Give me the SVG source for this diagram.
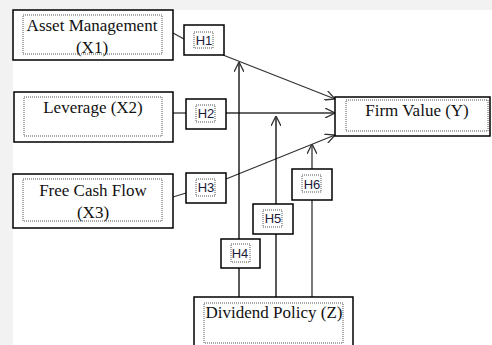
<svg xmlns="http://www.w3.org/2000/svg" width="492" height="345" viewBox="0 0 492 345">
<defs>
<style>
.box{fill:#fff;stroke:#000;stroke-width:1.5}
.dot{fill:none;stroke:#555;stroke-width:1;stroke-dasharray:1 1}
.t{font-family:"Liberation Serif","Times New Roman",serif;font-size:17px;fill:#111;text-anchor:middle}
.h{font-family:"Liberation Sans",Arial,sans-serif;font-size:13px;fill:#1a1a3a;text-anchor:middle}
.ln{fill:none;stroke:#333;stroke-width:1.3}
.lnk{fill:none;stroke:#000;stroke-width:1.3}
</style>
<marker id="arr" viewBox="0 0 10 10" refX="10" refY="5" markerWidth="10" markerHeight="10" markerUnits="userSpaceOnUse" orient="auto">
<path d="M0,0 L10,5 L0,10" fill="none" stroke="#333" stroke-width="1.3"/>
</marker>
</defs>
<rect x="0" y="0" width="492" height="345" fill="#f2f2f2"/>
<rect x="13" y="10" width="479" height="335" fill="#fff"/>

<g id="connectors">
<line class="ln" x1="173" y1="33" x2="184" y2="39"/>
<line class="ln" x1="223" y1="55" x2="335" y2="99" marker-end="url(#arr)"/>
<line class="ln" x1="173" y1="113" x2="186" y2="113"/>
<line class="ln" x1="226" y1="113" x2="335" y2="113" marker-end="url(#arr)"/>
<line class="ln" x1="173" y1="197" x2="186" y2="193"/>
<line class="ln" x1="226" y1="179" x2="335" y2="135" marker-end="url(#arr)"/>
<line class="lnk" x1="239" y1="297" x2="239" y2="62" marker-end="url(#arr)"/>
<line class="lnk" x1="276" y1="297" x2="276" y2="116" marker-end="url(#arr)"/>
<line class="ln" x1="312" y1="297" x2="312" y2="144" marker-end="url(#arr)"/>
</g>

<g id="x1">
<rect class="box" x="13" y="10" width="160" height="50"/>
<rect class="dot" x="23" y="15" width="139" height="39"/>
<text class="t" x="92" y="31">Asset Management</text>
<text class="t" x="92" y="53">(X1)</text>
</g>
<g id="x2">
<rect class="box" x="14" y="92" width="159" height="50"/>
<rect class="dot" x="24" y="97" width="138" height="39"/>
<text class="t" x="93" y="113">Leverage (X2)</text>
</g>
<g id="x3">
<rect class="box" x="13" y="174" width="160" height="54"/>
<rect class="dot" x="23" y="179" width="139" height="42"/>
<text class="t" x="93" y="196">Free Cash Flow</text>
<text class="t" x="93" y="218">(X3)</text>
</g>
<g id="y">
<rect class="box" x="335" y="97" width="155" height="39"/>
<rect class="dot" x="346" y="100" width="142" height="31"/>
<text class="t" x="417" y="116">Firm Value (Y)</text>
</g>
<g id="z">
<rect class="box" x="194" y="297" width="159" height="60"/>
<rect class="dot" x="204" y="303" width="139" height="40"/>
<text class="t" x="274" y="318">Dividend Policy (Z)</text>
</g>

<g id="h1">
<rect class="box" x="184" y="25" width="40" height="30"/>
<rect class="dot" x="194" y="32" width="19" height="16"/>
<text class="h" x="204" y="45">H1</text>
</g>
<g id="h2">
<rect class="box" x="186" y="99" width="40" height="30"/>
<rect class="dot" x="196" y="105" width="19" height="17"/>
<text class="h" x="206" y="118">H2</text>
</g>
<g id="h3">
<rect class="box" x="186" y="173" width="40" height="30"/>
<rect class="dot" x="196" y="179" width="19" height="17"/>
<text class="h" x="206" y="192">H3</text>
</g>
<g id="h4">
<rect class="box" x="221" y="239" width="39" height="29"/>
<rect class="dot" x="231" y="244" width="19" height="18"/>
<text class="h" x="240" y="258">H4</text>
</g>
<g id="h5">
<rect class="box" x="253" y="204" width="40" height="30"/>
<rect class="dot" x="263" y="210" width="19" height="17"/>
<text class="h" x="273" y="223">H5</text>
</g>
<g id="h6">
<rect class="box" x="292" y="169" width="40" height="31"/>
<rect class="dot" x="302" y="175" width="19" height="17"/>
<text class="h" x="312" y="189">H6</text>
</g>
</svg>
